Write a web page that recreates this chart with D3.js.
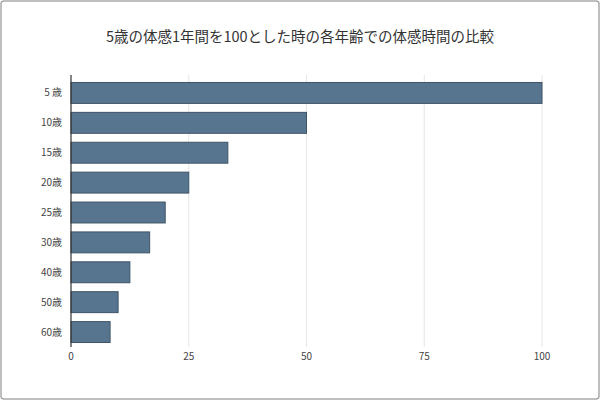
<!DOCTYPE html>
<html><head><meta charset="utf-8">
<script src="https://cdn.jsdelivr.net/npm/d3@7"></script>
<style>body{margin:0;background:#fff}svg{display:block}</style>
</head><body>
<script>
const categories=["5 歳","10歳","15歳","20歳","25歳","30歳","40歳","50歳","60歳"];
const values=[100,50,33.3,25,20,16.7,12.5,10,8.3];
const ticks=[0,25,50,75,100];
const title="5歳の体感1年間を100とした時の各年齢での体感時間の比較";
const W=600,H=400;
const svg=d3.select("body").append("svg").attr("width",W).attr("height",H);
svg.append("rect").attr("x",1).attr("y",1).attr("width",W-2).attr("height",H-2).attr("rx",3)
 .attr("fill","#fff").attr("stroke","#aaa").attr("stroke-width",1.5);
const font="'Noto Sans CJK JP',sans-serif";
svg.append("text").attr("x",W/2).attr("y",42).attr("text-anchor","middle")
 .attr("font-family",font).attr("font-size",14.5).attr("fill","#333").text(title);
const x=d3.scaleLinear().domain([0,100]).range([71,542]);
const y=d3.scaleBand().domain(categories).range([78,347]).paddingInner(0.3).paddingOuter(0.15);
svg.append("g").selectAll("line").data(ticks.slice(1)).join("line")
 .attr("x1",d=>x(d)).attr("x2",d=>x(d)).attr("y1",75).attr("y2",347).attr("stroke","#e6e6e6");
svg.append("g").selectAll("rect").data(values).join("rect")
 .attr("x",x(0)).attr("y",(d,i)=>y(categories[i])).attr("width",d=>x(d)-x(0))
 .attr("height",y.bandwidth()).attr("fill","#58758f").attr("stroke","#3e5468").attr("stroke-width",1);
svg.append("line").attr("x1",71).attr("x2",71).attr("y1",75).attr("y2",347).attr("stroke","#333").attr("stroke-width",1.2);
svg.append("g").selectAll("text").data(categories).join("text")
 .attr("x",62).attr("y",d=>y(d)+y.bandwidth()/2+3.5).attr("text-anchor","end")
 .attr("font-family",font).attr("font-size",10).attr("fill","#444").text(d=>d);
svg.append("g").selectAll("text").data(ticks).join("text")
 .attr("x",d=>x(d)).attr("y",360).attr("text-anchor","middle")
 .attr("font-family",font).attr("font-size",10).attr("fill","#444").text(d=>d);
</script>
</body></html>
